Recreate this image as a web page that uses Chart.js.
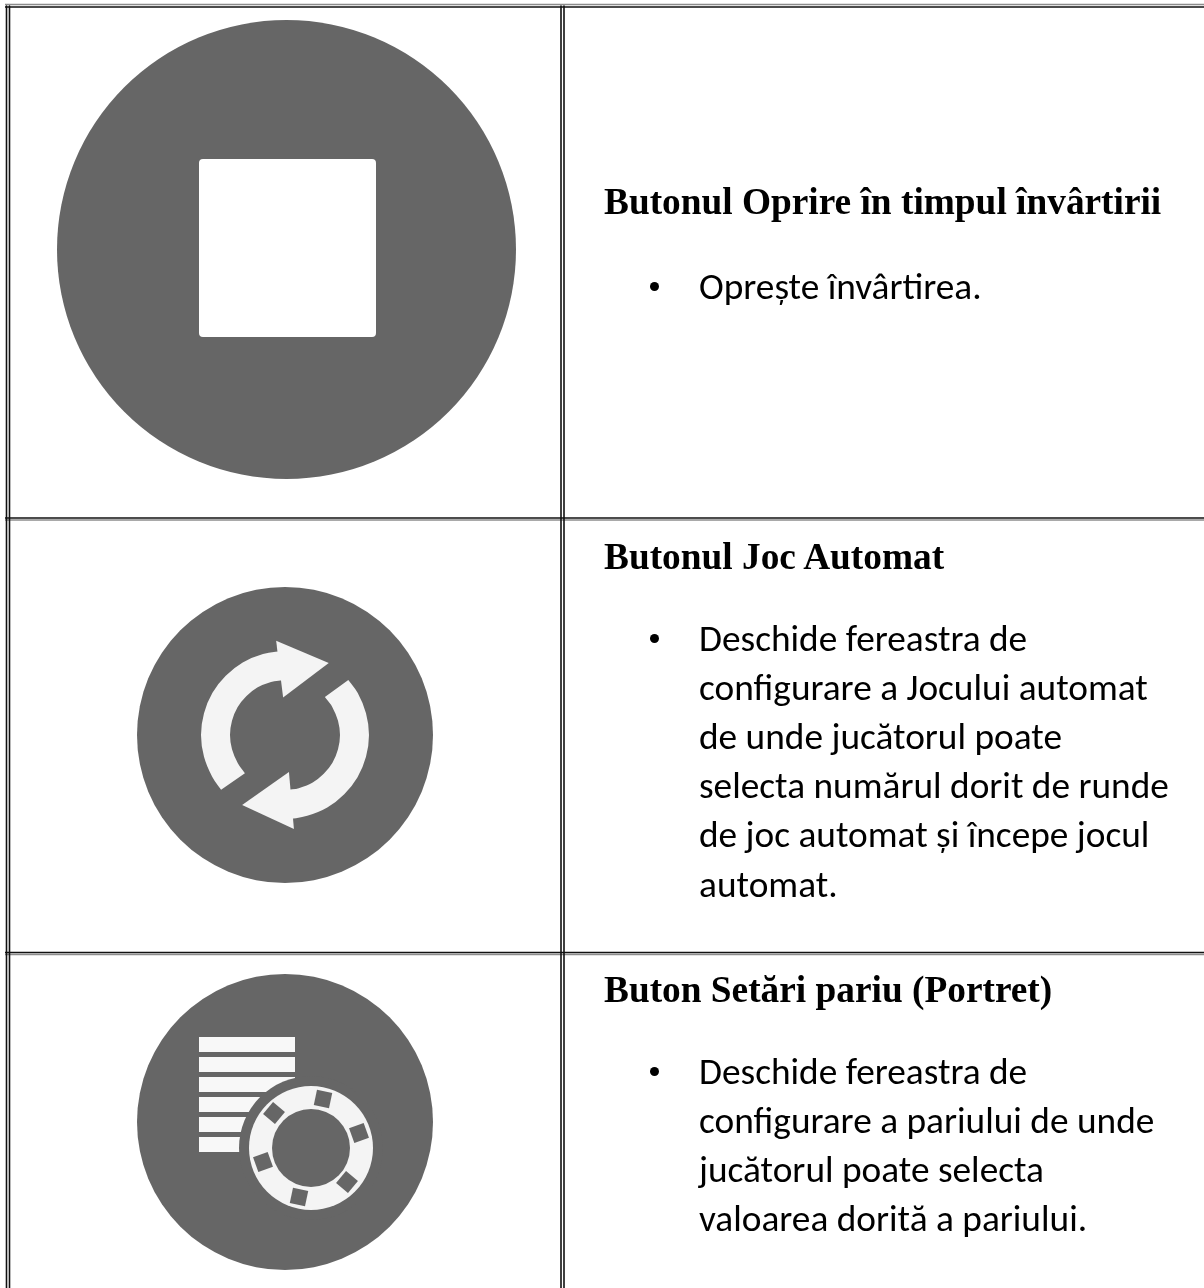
<!DOCTYPE html>
<html lang="ro">
<head>
<meta charset="UTF-8" />
<title>Butoane</title>
<style>
  html, body { margin: 0; padding: 0; background: #fff; overflow: hidden; }
  #page { position: relative; width: 1204px; height: 1288px; overflow: hidden; }
  /* canvas is oversized by the biggest point radius, chart area then lands on the page */
  #bg { position: absolute; left: -230px; top: -230px; }
  h3 { position: absolute; left: 604px; margin: 0; font: bold 37.33px/44px "Liberation Serif", serif; color: #000; white-space: nowrap; }
  .line { position: absolute; left: 699px; margin: 0; font: 37.33px/50px Carlito, Lato, sans-serif; color: #000; white-space: nowrap; }
  .dot { position: absolute; left: 650px; width: 9px; height: 9px; border-radius: 50%; background: #000; }
</style>
</head>
<body>
<div id="page">
  <canvas id="bg" width="1664" height="1748"></canvas>
</div>
<script src="https://cdn.jsdelivr.net/npm/chart.js"></script>
<script>
// texts: [top px, string]
const headings = [[180, 'Butonul Oprire în timpul învârtirii'], [535, 'Butonul Joc Automat'], [968, 'Buton Setări pariu (Portret)']];
const bullets = [282, 634, 1067];
const bodyLines = [
  [261, 'Oprește învârtirea.'],
  [613, 'Deschide fereastra de'], [662, 'configurare a Jocului automat'], [711, 'de unde jucătorul poate'],
  [760, 'selecta numărul dorit de runde'], [809, 'de joc automat și începe jocul'], [859, 'automat.'],
  [1046, 'Deschide fereastra de'], [1095, 'configurare a pariului de unde'], [1144, 'jucătorul poate selecta'], [1193, 'valoarea dorită a pariului.']
];

// everything below lives in the page's own pixel space, y grows downward
const darkCols = [6.5, 9.5, 561, 564];
const darkRows = [7, 518, 952.5];
const grayRows = [4.5, 520, 954.5];

const discX = [286.5, 285, 285];
const discY = [249.5, 735, 1122];
const discR = [229.5, 148, 148];

const stopOutlineX = [287, 372, 372, 203, 203, 287];
const stopOutlineY = [163, 163, 333, 333, 163, 163];
const stopFillX = [203, 372];
const stopFillY = [248, 248];

const arcLeftX = [233, 225, 218, 215.5, 218, 225, 236, 250, 267, 283];
const arcLeftY = [781.5, 770, 753, 735, 717, 700, 686, 675, 668, 665.5];
const arcRightX = [336.6, 345, 352, 354.5, 352, 345, 334, 320, 303, 289];
const arcRightY = [688.5, 700, 717, 735, 753, 770, 784, 795, 802, 804.5];
const headX = [296, 275];
const headY = [667, 802];
const headRotation = [83, 265];

const barLeft = [199, 199, 199, 199, 199, 199];
const barRight = [295, 295, 295, 295, 295, 295];
const barMid = [1044.5, 1064.5, 1084.5, 1104.5, 1124.5, 1144.5];

const chipX = [311, 311, 311];
const chipY = [1148, 1148, 1148];
const chipR = [72, 62, 39];
const chipColors = ['#666666', '#f4f4f4', '#666666'];
const slotX = [323, 359, 347, 299, 263, 274];
const slotY = [1099, 1133, 1182, 1197, 1162, 1113];
const slotRotation = [12, -20, 40, 12, -20, 40];

const gray = '#666666';
const icon = '#f4f4f4';
const sets = [];

function xy(xs, ys) { return xs.map((x, i) => ({ x, y: ys[i] })); }
function path(xs, ys, color, width, join, tension) {
  sets.push({ data: xy(xs, ys), showLine: true, borderColor: color, borderWidth: width, borderJoinStyle: join || 'round', borderCapStyle: 'butt', pointRadius: 0, tension: tension || 0 });
}
function dots(xs, ys, radius, color, style, rotation) {
  sets.push({ data: xy(xs, ys), showLine: false, pointRadius: radius, pointBackgroundColor: color, pointBorderWidth: 0, pointStyle: style || 'circle', pointRotation: rotation || 0 });
}

grayRows.forEach(y => path([5, 1204], [y, y], '#8c8c8c', 1.5));
darkRows.forEach(y => path([5, 1204], [y, y], '#111', 1.5));
darkCols.forEach(x => path([x, x], [6, 1288], '#111', 1.6));

dots(discX, discY, discR, gray);

path(stopOutlineX, stopOutlineY, '#ffffff', 8);
path(stopFillX, stopFillY, '#ffffff', 170, 'miter');

path(arcLeftX, arcLeftY, icon, 29, 'round', 0.4);
path(arcRightX, arcRightY, icon, 29, 'round', 0.4);
dots(headX, headY, 33, icon, 'triangle', headRotation);

barMid.forEach((y, i) => path([barLeft[i], barRight[i]], [y, y], '#f8f8f8', 15));

dots(chipX, chipY, chipR, chipColors);
dots(slotX, slotY, 11, gray, 'rect', slotRotation);

// chart.js paints the lowest order last, so flip push order
sets.forEach((s, i) => { s.order = sets.length - i; });

new Chart(document.getElementById('bg'), {
  type: 'scatter',
  data: { datasets: sets },
  options: {
    responsive: false, animation: false, events: [],
    layout: { padding: 230 },
    plugins: { legend: { display: false }, tooltip: { enabled: false } },
    scales: {
      x: { type: 'linear', min: 0, max: 1204, display: false },
      y: { type: 'linear', min: 0, max: 1288, reverse: true, display: false }
    }
  }
});

const page = document.getElementById('page');
headings.forEach(h => {
  const el = document.createElement('h3');
  el.style.top = h[0] + 'px';
  el.textContent = h[1];
  page.appendChild(el);
});
bullets.forEach(t => {
  const el = document.createElement('div');
  el.className = 'dot';
  el.style.top = t + 'px';
  page.appendChild(el);
});
bodyLines.forEach(l => {
  const el = document.createElement('p');
  el.className = 'line';
  el.style.top = l[0] + 'px';
  el.textContent = l[1];
  page.appendChild(el);
});
</script>
</body>
</html>
